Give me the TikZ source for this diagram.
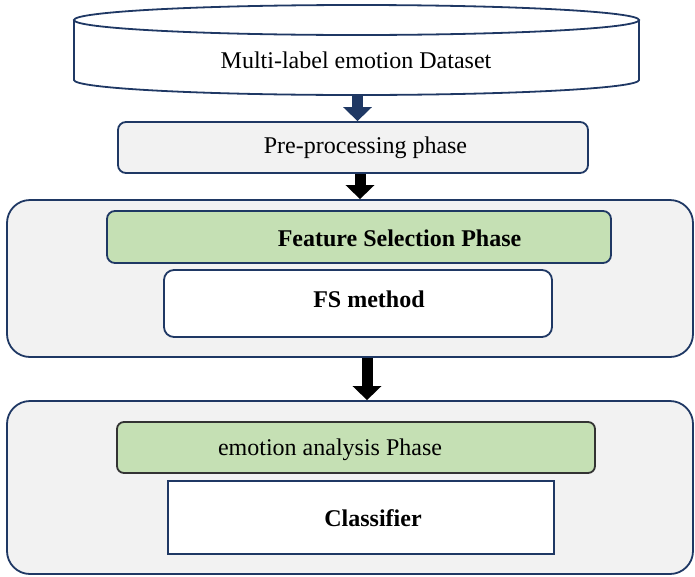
\documentclass[tikz,border=0pt]{standalone}
\usepackage{fontspec}
\setmainfont{Liberation Serif}
\usetikzlibrary{arrows.meta}
\definecolor{navy}{HTML}{1F3864}
\definecolor{panel}{HTML}{F2F2F2}
\definecolor{sage}{HTML}{C5E0B4}
\definecolor{edgegray}{HTML}{333333}
\begin{document}
\begin{tikzpicture}[x=1pt,y=-1pt,
  every node/.style={font=\fontsize{24}{28}\selectfont},
  outline/.style={draw=navy,line width=1.8pt},
  blank/.style={inner sep=0pt,minimum width=#1},
  panelbox/.style={outline,fill=panel,rounded corners=23pt,inner sep=0pt},
  greybox/.style={outline,fill=panel,rounded corners=8pt,inner sep=0pt},
  phasebox/.style={draw=navy,line width=1.8pt,fill=sage,rounded corners=8pt,inner sep=0pt},
  methodbox/.style={outline,fill=white,inner sep=0pt},
  label text/.style={inner sep=0pt},
  bold text/.style={inner sep=0pt,font=\fontsize{24}{28}\selectfont\bfseries},
  flow/.style={line width=11pt,-{Triangle[width=28pt,length=14pt]}},
]
\useasboundingbox (0,0) rectangle (695,576);

% dataset drum
\draw[draw=navy,line width=1.8pt,fill=white]
  (74,20) -- (74,80) arc[start angle=180,end angle=0,x radius=282.5,y radius=15] -- (639,20);
\draw[draw=navy,line width=1.8pt,fill=white] (356.5,20) ellipse[x radius=282.5,y radius=15];
\node[label text] (ds) at (356,60) {Multi-label emotion Dataset};
\coordinate (dsbot) at (357.5,95);

% pre-processing
\node[greybox,minimum width=470pt,minimum height=51pt] (pre) at (353,147.5) {};
\node[label text] (pretext) at (365.5,148) {Pre-processing phase};

% feature selection panel
\node[panelbox,minimum width=686pt,minimum height=157pt] (fspanel) at (350,278.5) {};
\node[phasebox,minimum width=504pt,minimum height=52pt] (fsphase) at (359,237) {};
\node[bold text] (fsphasetext) at (399.5,238) {Feature Selection Phase};
\node[methodbox,rounded corners=10pt,minimum width=388pt,minimum height=67pt] (fsm) at (358,303.5) {};
\node[bold text] (fsmtext) at (369,299) {FS method};

% emotion analysis panel
\node[panelbox,minimum width=686pt,minimum height=173pt] (eapanel) at (350,487.5) {};
\node[phasebox,draw=edgegray,rounded corners=7pt,minimum width=478pt,minimum height=51pt] (eaphase) at (356,447.5) {};
\node[label text] (eaphasetext) at (330,450) {emotion analysis Phase};
\node[methodbox,minimum width=386pt,minimum height=73pt] (clf) at (361,517.5) {};
\node[bold text] (clftext) at (373,518) {Classifier};

% flow arrows
\coordinate (a2) at (360,0);
\coordinate (a3) at (367,0);
\draw[flow,navy] (dsbot) -- (dsbot |- pre.north);
\draw[flow,black] (pre.south -| a2) -- (fspanel.north -| a2);
\draw[flow,black] (fspanel.south -| a3) -- (eapanel.north -| a3);
\end{tikzpicture}
\end{document}
